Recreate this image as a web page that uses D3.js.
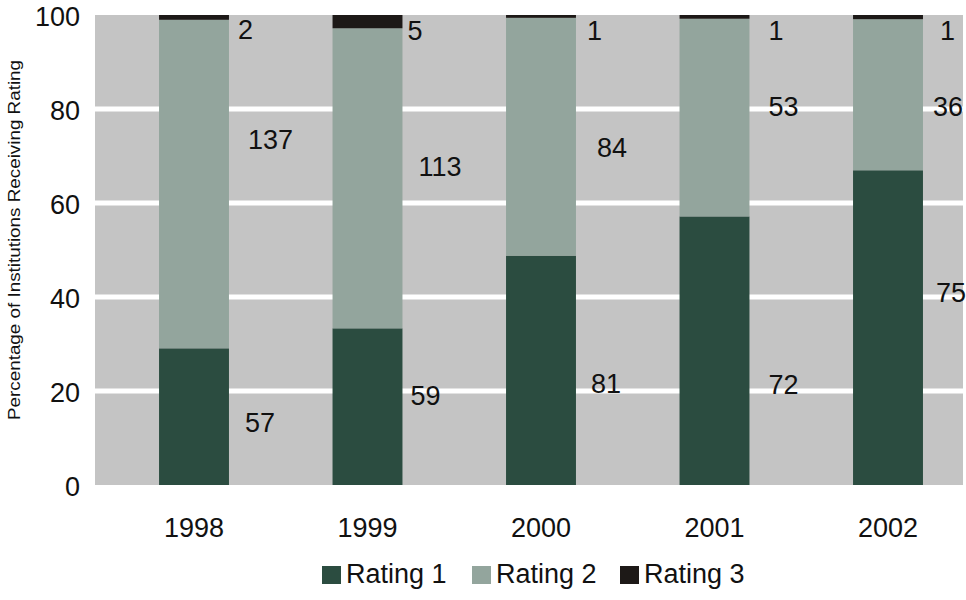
<!DOCTYPE html>
<html>
<head>
<meta charset="utf-8">
<script src="https://cdn.jsdelivr.net/npm/d3@7"></script>
<style>
  html, body { margin: 0; padding: 0; background: #ffffff; }
  svg { display: block; }
  text { font-family: "Liberation Sans", Arial, Helvetica, sans-serif; fill: #111; }
</style>
</head>
<body>
<svg id="chart" width="966" height="600"></svg>
<script>
// Years on the x axis
const years = ["1998", "1999", "2000", "2001", "2002"];
// Number of institutions receiving each rating, per year
const rating1 = [57, 59, 81, 72, 75];
const rating2 = [137, 113, 84, 53, 36];
const rating3 = [2, 5, 1, 1, 1];
const seriesNames = ["Rating 1", "Rating 2", "Rating 3"];
const yTicks = [0, 20, 40, 60, 80, 100];

// Label placement: horizontal gap from the bar edge (px) and vertical position (percent)
const labelGap = [[16, 19, 9], [8, 16, 5], [15, 21, 11], [19, 19, 19], [13, 10, 17]];
const labelLevel = [[13.3, 73.6, 97.0], [19.1, 67.9, 96.8], [21.7, 71.9, 96.8], [21.5, 80.6, 96.8], [40.9, 80.6, 96.8]];

const colors = ["#2b4c40", "#93a59d", "#1d1917"];

const svg = d3.select("#chart");
const plot = { left: 95, right: 963, top: 15, bottom: 485 };

const x = d3.scaleBand()
  .domain(years)
  .range([107.25, 974.75])
  .paddingInner(0.597)
  .paddingOuter(0.2985);

const y = d3.scaleLinear().domain([0, 100]).range([plot.bottom, plot.top]);

// Rows of counts and stacked percentages
const counts = [rating1, rating2, rating3];
const rows = years.map((yr, i) => {
  const total = rating1[i] + rating2[i] + rating3[i];
  const row = { year: yr, total: total };
  seriesNames.forEach((s, k) => { row[s] = counts[k][i] / total * 100; });
  return row;
});
const stacked = d3.stack().keys(seriesNames)(rows);

// Plot background
svg.append("rect")
  .attr("x", plot.left).attr("y", plot.top)
  .attr("width", plot.right - plot.left).attr("height", plot.bottom - plot.top)
  .attr("fill", "#c4c4c4");

// White gridlines
svg.append("g").selectAll("line")
  .data(yTicks.filter(t => t > 0 && t < 100))
  .join("line")
  .attr("x1", plot.left).attr("x2", plot.right)
  .attr("y1", d => y(d)).attr("y2", d => y(d))
  .attr("stroke", "#ffffff").attr("stroke-width", 5);

// Stacked bars
svg.append("g").selectAll("g")
  .data(stacked)
  .join("g")
  .attr("fill", (d, k) => colors[k])
  .selectAll("rect")
  .data(d => d)
  .join("rect")
  .attr("x", d => x(d.data.year))
  .attr("width", x.bandwidth())
  .attr("y", d => y(d[1]))
  .attr("height", d => y(d[0]) - y(d[1]));

// Count labels beside each segment
const labels = [];
years.forEach((yr, i) => {
  seriesNames.forEach((s, k) => {
    labels.push({ year: yr, value: counts[k][i], gap: labelGap[i][k], level: labelLevel[i][k] });
  });
});
svg.append("g").selectAll("text")
  .data(labels)
  .join("text")
  .attr("x", d => x(d.year) + x.bandwidth() + d.gap)
  .attr("y", d => y(d.level))
  .attr("dy", "0.36em")
  .attr("font-size", 27)
  .text(d => d.value);

// Y axis
const yAxis = svg.append("g")
  .attr("transform", `translate(${plot.left},0)`)
  .call(d3.axisLeft(y).tickValues(yTicks).tickSize(0).tickPadding(15));
yAxis.select(".domain").remove();
yAxis.selectAll("text")
  .attr("font-size", 27)
  .attr("font-family", "Liberation Sans, Arial, sans-serif")
  .attr("fill", "#111")
  .attr("dy", "0.4em");

// X axis labels
const xAxis = svg.append("g")
  .attr("transform", `translate(0,${plot.bottom})`)
  .call(d3.axisBottom(x).tickSize(0).tickPadding(33));
xAxis.select(".domain").remove();
xAxis.selectAll("text")
  .attr("font-size", 27)
  .attr("font-family", "Liberation Sans, Arial, sans-serif")
  .attr("fill", "#111");

// Y axis title
svg.append("text")
  .attr("transform", "translate(20,240) rotate(-90)")
  .attr("text-anchor", "middle")
  .attr("font-size", 17)
  .attr("textLength", 360)
  .attr("lengthAdjust", "spacingAndGlyphs")
  .text("Percentage of Institutions Receiving Rating");

// Legend
const legendX = [322, 472, 620];
const legend = svg.append("g").selectAll("g")
  .data(seriesNames)
  .join("g")
  .attr("transform", (d, k) => `translate(${legendX[k]},566)`);
legend.append("rect")
  .attr("width", 19).attr("height", 18)
  .attr("fill", (d, k) => colors[k]);
legend.append("text")
  .attr("x", 24).attr("y", 17)
  .attr("font-size", 27)
  .text(d => d);
</script>
</body>
</html>
